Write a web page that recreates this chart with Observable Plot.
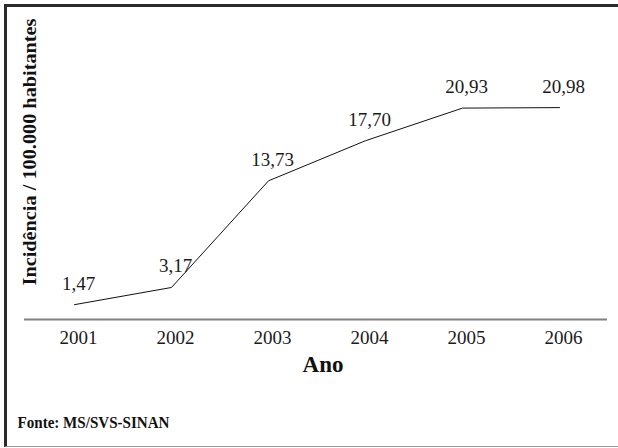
<!DOCTYPE html>
<html>
<head>
<meta charset="utf-8">
<script src="https://cdn.jsdelivr.net/npm/d3@7"></script>
<script src="https://cdn.jsdelivr.net/npm/@observablehq/plot@0.6"></script>
<style>
  html, body { margin: 0; padding: 0; background: #fff; overflow: hidden; }
  #wrap { position: relative; width: 618px; height: 448px; overflow: hidden; }
  #box {
    position: absolute; left: 4px; top: 4px; width: 640px; height: 443px;
    box-sizing: border-box;
    border-top: 3px solid #2b2b2b;
    border-left: 3px solid #2b2b2b;
    border-bottom: 1.5px solid #9a9a9a;
  }
  #chart { position: absolute; left: 0; top: 0; }
</style>
</head>
<body>
<div id="wrap"><div id="box"></div><div id="chart"></div></div>
<script>
// Incidência anual por 100.000 habitantes
const years = ["2001", "2002", "2003", "2004", "2005", "2006"];
const incidence = [1.47, 3.17, 13.73, 17.70, 20.93, 20.98];

const yLabel = "Incidência / 100.000 habitantes";
const xLabel = "Ano";
const source = "Fonte: MS/SVS-SINAN";

const table = years.map((year, i) => ({year, value: incidence[i]}));
const fmt = v => v.toFixed(2).replace(".", ",");

const serif = "'Liberation Serif', 'Times New Roman', serif";

const chart = Plot.plot({
  width: 618,
  height: 448,
  marginLeft: 24,
  marginRight: 11,
  marginTop: 66.5,
  marginBottom: 129,
  style: {fontFamily: serif, background: "transparent", color: "#1a1a1a"},
  x: {type: "point", domain: years, range: [77, 563], padding: 0},
  y: {domain: [0, 25], axis: null},
  marks: [
    Plot.ruleY([0], {stroke: "#808080", strokeWidth: 2}),
    Plot.axisX({tickSize: 0, tickPadding: 10.5, fontSize: 19, label: null, fontFamily: serif, fill: "#1a1a1a"}),
    Plot.lineY(table, {x: "year", y: "value", stroke: "#111", strokeWidth: 1, dx: -4}),
    Plot.text(table, {
      x: "year", y: "value", text: d => fmt(d.value),
      dy: -15, lineAnchor: "bottom", fontSize: 19, fill: "#1a1a1a", fontFamily: serif
    }),
    Plot.text([xLabel], {
      frameAnchor: "bottom", dx: 7, dy: 52, lineAnchor: "bottom",
      fontSize: 23, fontWeight: "bold", fill: "#111", fontFamily: serif
    }),
    // rotated title, anchored at its start (bottom end) so the stretched length runs upward
    Plot.text([yLabel], {
      frameAnchor: "left", rotate: -90, textAnchor: "start", dx: 6, dy: 92.25,
      fontSize: 18.5, fontWeight: "bold", fill: "#111", fontFamily: serif
    }),
    Plot.text([source], {
      frameAnchor: "bottom-left", textAnchor: "start", lineAnchor: "bottom",
      dx: -7, dy: 108, fontSize: 17, fontWeight: "bold", fill: "#111", fontFamily: serif
    })
  ]
});

// fit the bold label lines to their set lengths
d3.select(chart).selectAll("text")
  .filter(function () { return this.textContent === yLabel; })
  .attr("textLength", 267).attr("lengthAdjust", "spacingAndGlyphs");
d3.select(chart).selectAll("text")
  .filter(function () { return this.textContent === source; })
  .attr("textLength", 152).attr("lengthAdjust", "spacingAndGlyphs");

document.getElementById("chart").appendChild(chart);
</script>
</body>
</html>
